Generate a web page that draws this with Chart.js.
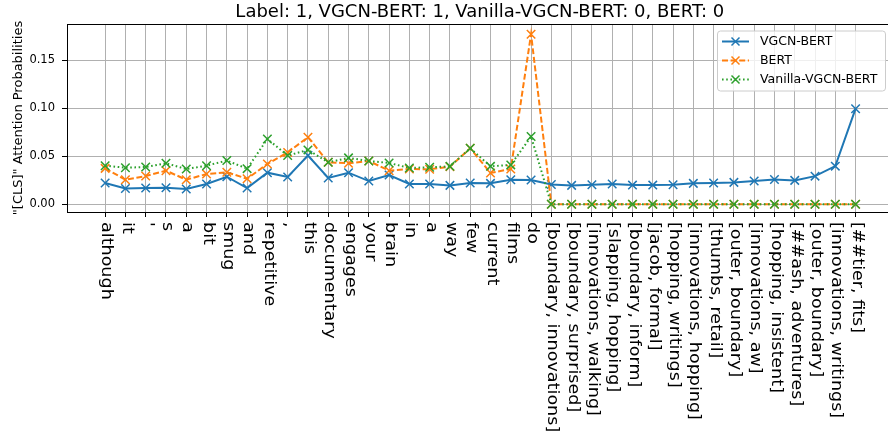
<!DOCTYPE html>
<html>
<head>
<meta charset="utf-8">
<script src="https://cdn.jsdelivr.net/npm/chart.js@4.4.1/dist/chart.umd.min.js"></script>
<style>
	html, body { margin: 0; padding: 0; background: #fff; overflow: hidden; }
	#wrap { position: relative; width: 900px; height: 436px; }
</style>
</head>
<body>
<div id="wrap"><canvas id="chart"></canvas></div>
<script>
"use strict";

// Tokens on the x axis
var categories = [
	'although', 'it', "'", 's', 'a', 'bit', 'smug', 'and', 'repetitive', ',',
	'this', 'documentary', 'engages', 'your', 'brain', 'in', 'a', 'way', 'few', 'current',
	'films', 'do',
	'[boundary, innovations]', '[boundary, surprised]', '[innovations, walking]', '[slapping, hopping]',
	'[boundary, inform]', '[jacob, formal]', '[hopping, writings]', '[innovations, hopping]',
	'[thumbs, retail]', '[outer, boundary]', '[innovations, aw]', '[hopping, insistent]',
	'[##ash, adventures]', '[outer, boundary]', '[innovations, writings]', '[##tier, fits]'
];

var vgcnBert = [
	0.0222, 0.0165, 0.0169, 0.0172, 0.0159, 0.0211, 0.0287, 0.0169, 0.0329, 0.0285,
	0.0507, 0.0274, 0.0329, 0.0242, 0.0305, 0.0211, 0.0211, 0.0197, 0.0222, 0.0218,
	0.0256, 0.0253,
	0.0207, 0.0197, 0.0204, 0.0211, 0.0200, 0.0200, 0.0204, 0.0218,
	0.0221, 0.0228, 0.0242, 0.0259, 0.0249, 0.0293, 0.0397, 0.0995
];

var bert = [
	0.0374, 0.0256, 0.0294, 0.0350, 0.0256, 0.0315, 0.0333, 0.0266, 0.0420, 0.0540,
	0.0698, 0.0437, 0.0427, 0.0451, 0.0350, 0.0367, 0.0364, 0.0392, 0.0583, 0.0326,
	0.0367, 0.1770,
	0, 0, 0, 0, 0, 0, 0, 0,
	0, 0, 0, 0, 0, 0, 0, 0
];

var vanillaVgcnBert = [
	0.0402, 0.0381, 0.0388, 0.0427, 0.0367, 0.0402, 0.0455, 0.0371, 0.0680, 0.0507,
	0.0566, 0.0437, 0.0483, 0.0451, 0.0430, 0.0378, 0.0385, 0.0395, 0.0583, 0.0395,
	0.0410, 0.0705,
	0, 0, 0, 0, 0, 0, 0, 0,
	0, 0, 0, 0, 0, 0, 0, 0
];

var yTicks = [0, 0.05, 0.10, 0.15];

var FONT = "'DejaVu Sans', 'Liberation Sans', sans-serif";

Chart.defaults.font.family = FONT;
Chart.defaults.color = '#000';

function toPoints(arr) {
	return arr.map(function(v, i) { return { x: i, y: v }; });
}

// Series setup (name, values, colour, dash) in legend order
var series = [
	{ label: 'VGCN-BERT', data: vgcnBert, color: '#1f77b4', dash: [], order: 2 },
	{ label: 'BERT', data: bert, color: '#ff7f0e', dash: [6, 2.6], order: 1 },
	{ label: 'Vanilla-VGCN-BERT', data: vanillaVgcnBert, color: '#2ca02c', dash: [1.6, 2.6], order: 0 }
];

function drawX(ctx, x, y, r) {
	ctx.beginPath();
	ctx.moveTo(x - r, y - r); ctx.lineTo(x + r, y + r);
	ctx.moveTo(x - r, y + r); ctx.lineTo(x + r, y - r);
	ctx.stroke();
}

// Frame, rotated token labels and legend box
var extrasPlugin = {
	id: 'extras',
	afterDatasetsDraw: function(chart) {
		var ctx = chart.ctx, ca = chart.chartArea;
		ctx.save();
		ctx.strokeStyle = '#000';
		ctx.lineWidth = 1;
		ctx.strokeRect(Math.round(ca.left) + 0.5, Math.round(ca.top) + 0.5,
			Math.round(ca.right - ca.left), Math.round(ca.bottom - ca.top));
		ctx.restore();
	},
	afterDraw: function(chart) {
		var ctx = chart.ctx, ca = chart.chartArea;
		var xs = chart.scales.x;

		// token labels, reading top to bottom
		ctx.save();
		ctx.fillStyle = '#000';
		ctx.font = '15px ' + FONT;
		ctx.textAlign = 'left';
		ctx.textBaseline = 'middle';
		categories.forEach(function(lbl, i) {
			var x = xs.getPixelForValue(i);
			ctx.save();
			ctx.translate(x + 1, ca.bottom + 10);
			ctx.rotate(Math.PI / 2);
			ctx.scale(1.17, 1);
			ctx.fillText(lbl, 0, 0);
			ctx.restore();
		});
		ctx.restore();

		// legend
		var bw = 168, bh = 60;
		var bx = ca.right - 7.5 - bw, by = ca.top + 6.5;
		ctx.save();
		ctx.beginPath();
		if (ctx.roundRect) ctx.roundRect(bx + 0.5, by + 0.5, bw, bh, 3);
		else ctx.rect(bx + 0.5, by + 0.5, bw, bh);
		ctx.fillStyle = 'rgba(255,255,255,0.8)';
		ctx.fill();
		ctx.strokeStyle = '#cccccc';
		ctx.lineWidth = 1;
		ctx.stroke();
		ctx.font = '12.5px ' + FONT;
		ctx.textAlign = 'left';
		ctx.textBaseline = 'middle';
		series.forEach(function(s, k) {
			var ly = by + 11 + k * 19;
			ctx.strokeStyle = s.color;
			ctx.lineWidth = 2;
			ctx.setLineDash(s.dash);
			ctx.beginPath();
			ctx.moveTo(bx + 5, ly);
			ctx.lineTo(bx + 32, ly);
			ctx.stroke();
			ctx.setLineDash([]);
			ctx.lineWidth = 1.5;
			drawX(ctx, bx + 18.5, ly, 4);
			ctx.fillStyle = '#000';
			ctx.fillText(s.label, bx + 43, ly + 0.5);
		});
		ctx.restore();
	}
};

var config = {
	type: 'line',
	data: {
		datasets: series.map(function(s) {
			return {
				label: s.label,
				data: toPoints(s.data),
				borderColor: s.color,
				backgroundColor: s.color,
				borderWidth: 2,
				borderDash: s.dash,
				pointStyle: 'crossRot',
				pointRadius: 6,
				pointBorderWidth: 1.5,
				pointBorderColor: s.color,
				tension: 0,
				fill: false,
				order: s.order
			};
		})
	},
	options: {
		responsive: true,
		maintainAspectRatio: false,
		animation: false,
		devicePixelRatio: 1,
		layout: { padding: { left: 0, right: 5.6, top: 0, bottom: 0 } },
		plugins: {
			legend: { display: false },
			tooltip: { enabled: false },
			title: {
				display: true,
				fullSize: false,
				text: 'Label: 1, VGCN-BERT: 1, Vanilla-VGCN-BERT: 0, BERT: 0',
				color: '#000',
				font: { size: 18, weight: 'normal', lineHeight: 1 },
				padding: { top: 3, bottom: 3 }
			}
		},
		scales: {
			x: {
				type: 'linear',
				min: -1.88,
				max: 38.82,
				afterBuildTicks: function(scale) {
					scale.ticks = categories.map(function(c, i) { return { value: i }; });
				},
				afterFit: function(scale) { scale.height = 224; },
				ticks: { display: false },
				grid: { color: '#b0b0b0', lineWidth: 1, tickColor: '#000', tickLength: 5, drawTicks: true },
				border: { display: true, color: '#000', width: 1 }
			},
			y: {
				type: 'linear',
				min: -0.0080,
				max: 0.1876,
				afterBuildTicks: function(scale) {
					scale.ticks = yTicks.map(function(v) { return { value: v }; });
				},
				afterFit: function(scale) { scale.width = 67; },
				ticks: {
					padding: 7,
					font: { size: 11.5 },
					color: '#000',
					callback: function(v) { return Number(v).toFixed(2); }
				},
				grid: { color: '#b0b0b0', lineWidth: 1, tickColor: '#000', tickLength: 5 },
				border: { display: true, color: '#000', width: 1 },
				title: {
					display: true,
					text: '"[CLS]" Attention Probabilities',
					color: '#000',
					font: { size: 13 },
					padding: { top: 11, bottom: 0 }
				}
			}
		}
	},
	plugins: [extrasPlugin]
};

var chart = new Chart(document.getElementById('chart'), config);
</script>
</body>
</html>
